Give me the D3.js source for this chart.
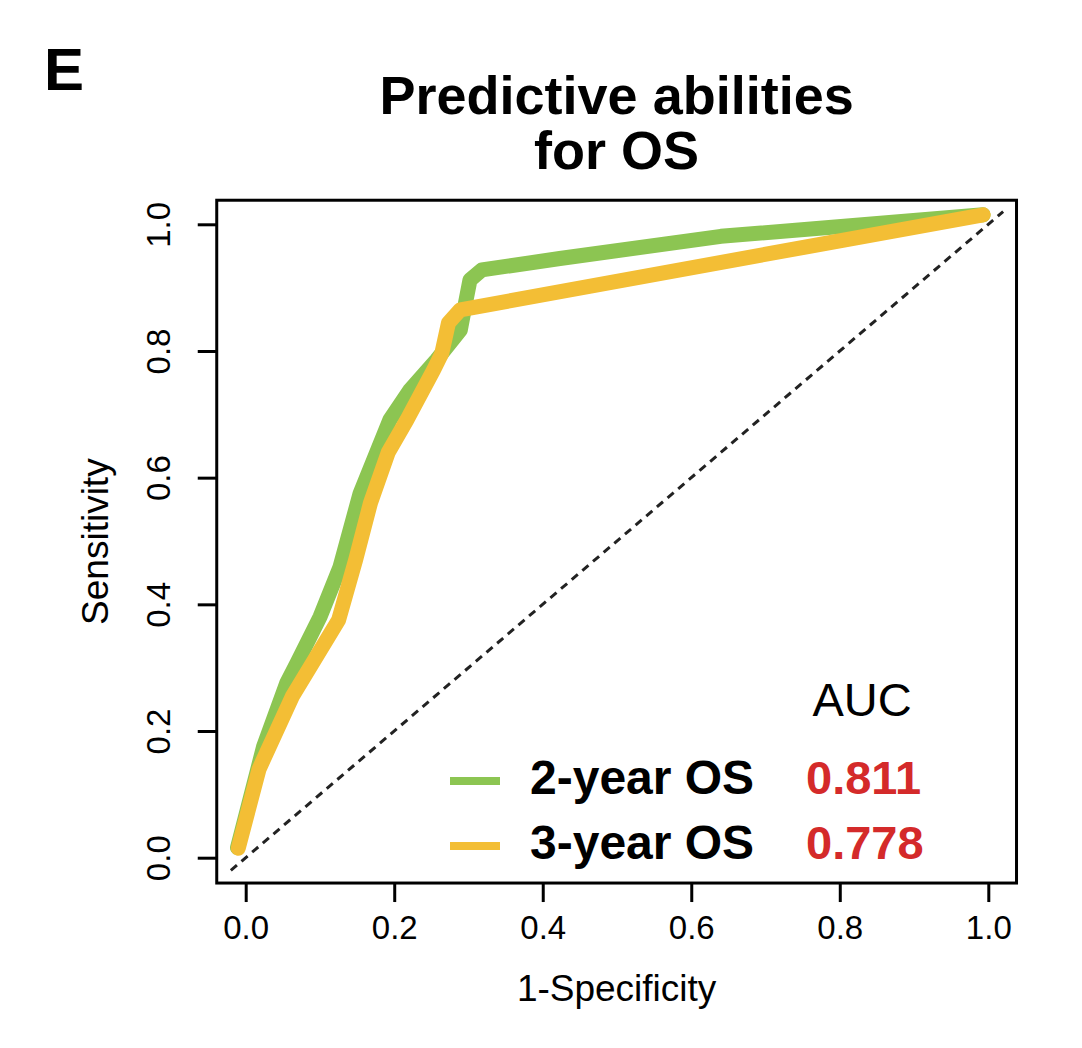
<!DOCTYPE html>
<html lang="en">
	<head>
		<meta charset="utf-8">
		<title>ROC: Predictive abilities for OS</title>
		<script type="text/javascript" src="https://d3js.org/d3.v7.min.js"></script>
		<style type="text/css">
			body {
				margin: 0;
				background: #ffffff;
			}
			text {
				font-family: "Liberation Sans", Arial, Helvetica, sans-serif;
				fill: #000000;
			}
			text.title {
				font-size: 54px;
				font-weight: 700;
			}
			text.panel {
				font-size: 60px;
				font-weight: 700;
			}
			text.axisTitle {
				font-size: 37px;
			}
			.tick text {
				font-size: 33px;
				fill: #000000;
			}
			.tick line {
				stroke: #000000;
				stroke-width: 3;
			}
			path.domain {
				display: none;
			}
			text.legendLabel {
				font-size: 48px;
				font-weight: 700;
			}
			text.aucValue {
				font-size: 47px;
				font-weight: 700;
				fill: #d42a2a;
			}
			text.aucHead {
				font-size: 47px;
			}
		</style>
	</head>
	<body>
		<div id="chart"></div>
		<script type="text/javascript">

			// 2-year OS ROC curve (1-Specificity, Sensitivity)
			const fpr2 = [-0.011, 0.024, 0.055, 0.069, 0.100, 0.127, 0.154, 0.194, 0.221, 0.257, 0.289, 0.295, 0.302, 0.318, 0.423, 0.640, 0.993];
			const tpr2 = [0.016, 0.175, 0.275, 0.307, 0.380, 0.459, 0.575, 0.691, 0.738, 0.786, 0.833, 0.870, 0.912, 0.928, 0.946, 0.981, 1.015];

			// 3-year OS ROC curve
			const fpr3 = [-0.010, 0.018, 0.063, 0.125, 0.148, 0.168, 0.192, 0.217, 0.253, 0.264, 0.273, 0.289, 0.993];
			const tpr3 = [0.015, 0.140, 0.255, 0.375, 0.470, 0.560, 0.640, 0.691, 0.770, 0.796, 0.844, 0.865, 1.015];

			const seriesNames = ["2-year OS", "3-year OS"];
			const aucValues = ["0.811", "0.778"];
			const seriesColours = ["#8cc552", "#f3be35"];

			const tickValues = [0, 0.2, 0.4, 0.6, 0.8, 1.0];
			const diagonal = [-0.02, 1.02];

			makeChart();

			function makeChart() {
				const width = 1082;
				const height = 1048;

				const svg = d3.select('#chart')
							  .append('svg')
							    .attr('width', width)
							    .attr('height', height);

				// plot region (R style: axis range padded by ~4%)
				let x = d3.scaleLinear()
						   .domain([0, 1])
						   .range([245.7, 988.3]);

				let y = d3.scaleLinear()
						   .domain([0, 1])
						   .range([857.7, 224.3]);

				const boxX0 = x(-0.039), boxX1 = x(1.038);
				const boxY0 = y(1.038), boxY1 = y(-0.04);

				// panel letter and title
				svg.append('text')
				  .attr('class', 'panel')
				  .attr('x', 44)
				  .attr('y', 90)
				  .text('E');

				let title = svg.append('text')
							  .attr('class', 'title')
							  .attr('text-anchor', 'middle');
				title.append('tspan')
				  .attr('x', (boxX0 + boxX1) / 2)
				  .attr('y', 114)
				  .text('Predictive abilities');
				title.append('tspan')
				  .attr('x', (boxX0 + boxX1) / 2)
				  .attr('y', 169)
				  .text('for OS');

				// axes
				let xAxis = d3.axisBottom(x)
							   .tickValues(tickValues)
							   .tickSize(19)
							   .tickPadding(14)
							   .tickFormat(d3.format('.1f'));

				svg.append('g')
				  .attr('class', 'axis xAxis')
				  .attr('transform', `translate(0,${boxY1})`)
				  .call(xAxis);

				let yAxis = d3.axisLeft(y)
							   .tickValues(tickValues)
							   .tickSize(19)
							   .tickFormat(d3.format('.1f'));

				svg.append('g')
				  .attr('class', 'axis yAxis')
				  .attr('transform', `translate(${boxX0},0)`)
				  .call(yAxis)
				  .selectAll('.tick text')
				    .attr('transform', 'rotate(-90)')
				    .attr('x', 0)
				    .attr('y', -47)
				    .attr('dy', 0)
				    .style('text-anchor', 'middle');

				svg.append('text')
				  .attr('class', 'axisTitle')
				  .attr('x', (boxX0 + boxX1) / 2)
				  .attr('y', 1001)
				  .attr('text-anchor', 'middle')
				  .text('1-Specificity');

				svg.append('text')
				  .attr('class', 'axisTitle')
				  .attr('transform', `translate(108,${(boxY0 + boxY1) / 2}) rotate(-90)`)
				  .attr('text-anchor', 'middle')
				  .text('Sensitivity');

				// reference diagonal
				svg.append('line')
				  .attr('x1', x(diagonal[0]))
				  .attr('y1', y(diagonal[0]))
				  .attr('x2', x(diagonal[1]))
				  .attr('y2', y(diagonal[1]))
				  .style('stroke', '#222222')
				  .style('stroke-width', 3)
				  .style('stroke-dasharray', '8,6');

				// ROC curves
				const curves = [
					d3.zip(fpr2, tpr2),
					d3.zip(fpr3, tpr3)
				];

				let line = d3.line()
							  .x(d => x(d[0]))
							  .y(d => y(d[1]));

				svg.selectAll('path.roc')
				  .data(curves)
				  .enter()
				  .append('path')
				  .attr('class', 'roc')
				  .attr('d', line)
				  .style('fill', 'none')
				  .style('stroke', (d, i) => seriesColours[i])
				  .style('stroke-width', 15)
				  .style('stroke-linejoin', 'round')
				  .style('stroke-linecap', 'round');

				// box
				svg.append('rect')
				  .attr('x', boxX0)
				  .attr('y', boxY0)
				  .attr('width', boxX1 - boxX0)
				  .attr('height', boxY1 - boxY0)
				  .style('fill', 'none')
				  .style('stroke', '#000000')
				  .style('stroke-width', 3);

				// legend
				svg.append('text')
				  .attr('class', 'aucHead')
				  .attr('x', 862)
				  .attr('y', 716)
				  .attr('text-anchor', 'middle')
				  .text('AUC');

				const legendY = [781, 846];

				let legend = svg.selectAll('g.legendItem')
								 .data(seriesNames)
								 .enter()
								 .append('g')
								 .attr('class', 'legendItem')
								 .attr('transform', (d, i) => `translate(0,${legendY[i]})`);

				legend.append('line')
				  .attr('x1', 450)
				  .attr('x2', 500)
				  .style('stroke', (d, i) => seriesColours[i])
				  .style('stroke-width', 8);

				legend.append('text')
				  .attr('class', 'legendLabel')
				  .attr('x', 530)
				  .attr('y', 13)
				  .text(d => d);

				legend.append('text')
				  .attr('class', 'aucValue')
				  .attr('x', 806)
				  .attr('y', 13)
				  .text((d, i) => aucValues[i]);
			}
		</script>
	</body>
</html>
